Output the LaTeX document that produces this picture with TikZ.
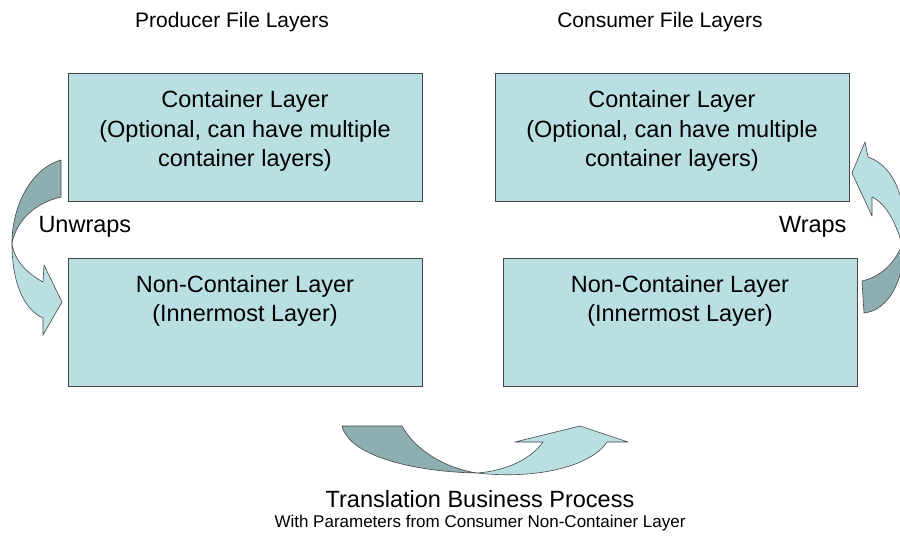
\documentclass[tikz,border=0pt]{standalone}
\usepackage{fontspec}
\setmainfont{Liberation Sans}
\definecolor{boxfill}{RGB}{186,223,227}
\definecolor{darkband}{RGB}{143,174,178}
\definecolor{edge}{RGB}{70,70,70}
\begin{document}
\begin{tikzpicture}[x=1pt,y=-1pt,
  layerbox/.style={draw=edge,line width=0.9pt,fill=boxfill,minimum width=354pt,minimum height=128pt,inner sep=0pt},
  boxtext/.style={align=center,inner sep=0pt,font=\fontsize{23.5}{29.5}\selectfont},
  head/.style={font=\fontsize{21}{24}\selectfont},
  lbl/.style={font=\fontsize{23.5}{26}\selectfont},
  lightband/.style={fill=boxfill,draw=edge,line width=0.6pt,line join=round},
  darkband/.style={fill=darkband,draw=edge,line width=0.6pt,line join=round}]
\useasboundingbox (0,0) rectangle (900,542);
\fill[white] (0,0) rectangle (900,542);

\node[head] (ph) at (232,22) {Producer File Layers};
\node[head] (ch) at (660,22) {Consumer File Layers};

\node[layerbox] (pc) at (245,137) {};
\node[layerbox] (cc) at (672,137) {};
\node[layerbox] (pn) at (245,322) {};
\node[layerbox] (cn) at (680,322) {};

\node[boxtext] (pct) at ([yshift=6pt]pc.center) {Container Layer\\(Optional, can have multiple\\container layers)};
\node[boxtext] (cct) at ([yshift=6pt]cc.center) {Container Layer\\(Optional, can have multiple\\container layers)};
\node[boxtext] (pnt) at ([yshift=21pt]pn.center) {Non-Container Layer\\(Innermost Layer)};
\node[boxtext] (cnt) at ([yshift=21pt]cn.center) {Non-Container Layer\\(Innermost Layer)};

\node[lbl,anchor=west] (unw) at (35,227) {Unwraps};
\node[lbl,anchor=east] (wr) at (850,227) {Wraps};

% Unwraps arrow (left)
\filldraw[darkband] (61,160) .. controls (32,168) and (12,205) .. (12,243)
   .. controls (17,220) and (35,203) .. (61,197) -- cycle;
\filldraw[lightband] (12,243) .. controls (12,285) and (25,310) .. (43,318)
   -- (43,335) -- (62,302) -- (44,265) -- (43,282)
   .. controls (30,275) and (14,262) .. (12,243) -- cycle;

% Wraps arrow (right), clipped at the picture edge
\begin{scope}
\clip (0,0) rectangle (900,542);
\filldraw[darkband] (862,281) .. controls (880,277) and (896,263) .. (903,242)
   -- (930,242) -- (930,255) -- (904,255)
   .. controls (900,290) and (884,311) .. (864,313) -- cycle;
\filldraw[lightband] (868,157) .. controls (888,164) and (900,185) .. (903,210)
   -- (930,210) -- (930,248) -- (903,248)
   .. controls (897,225) and (887,204) .. (872,197)
   -- (872,216) -- (852,173) -- (865,142) -- cycle;
\end{scope}

% Translation arrow (bottom)
\filldraw[darkband] (342,426) -- (402,426) .. controls (415,450) and (445,468) .. (477,473)
   .. controls (420,472) and (350,458) .. (342,426) -- cycle;
\filldraw[lightband] (477,473) .. controls (540,480) and (592,465) .. (607,442)
   -- (628,442) -- (580,426) -- (515,442) -- (543,442)
   .. controls (530,460) and (505,471) .. (477,473) -- cycle;

\node[lbl] (tbp) at (480,499) {Translation Business Process};
\node[font=\fontsize{17}{19}\selectfont] (wp) at (480,523) {With Parameters from Consumer Non-Container Layer};
\end{tikzpicture}
\end{document}
